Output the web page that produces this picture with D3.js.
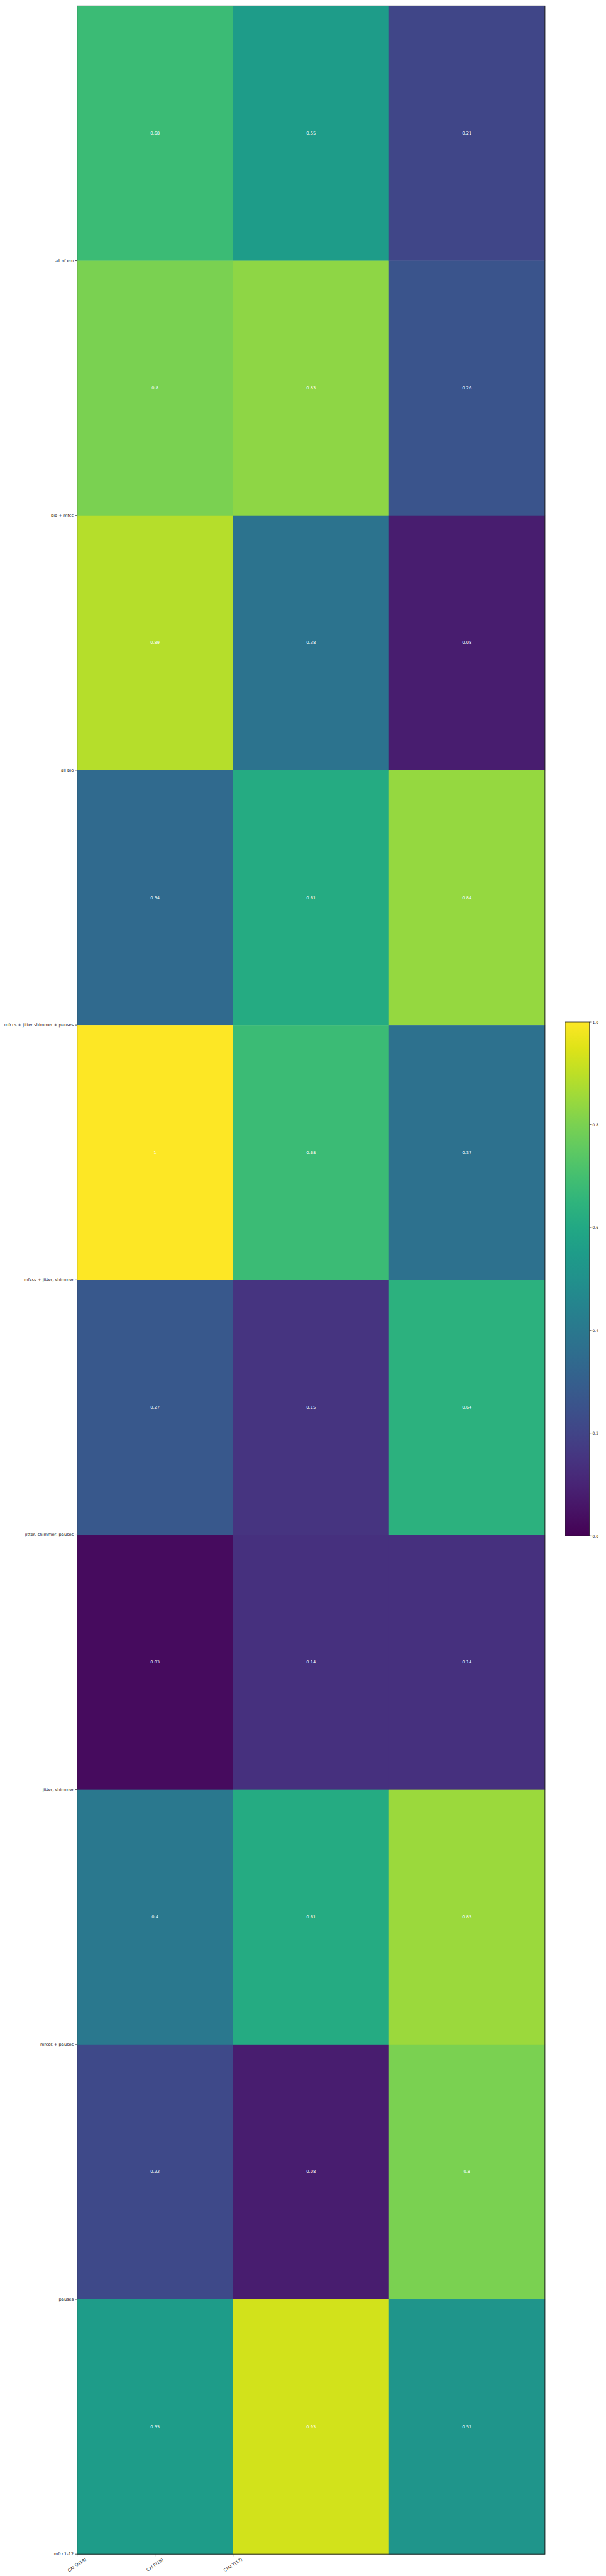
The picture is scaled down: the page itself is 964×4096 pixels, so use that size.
<!DOCTYPE html>
<html><head><meta charset="utf-8">
<script src="https://cdn.jsdelivr.net/npm/d3@7"></script>
<style>body{margin:0;background:#fff}svg{display:block}</style>
</head><body>
<script>
const rowLabels = ["all of em","bio + mfcc","all bio","mfccs + jitter shimmer + pauses","mfccs + jitter, shimmer","jitter, shimmer, pauses","jitter, shimmer","mfccs + pauses","pauses","mfcc1-12"];
const colLabels = ["CAI St(19)","CAI F(18)","STAI T(17)"];
const colTickPos = [0, 0.5, 1];
const col1 = [0.68,0.80,0.89,0.34,1.00,0.27,0.03,0.40,0.22,0.55];
const col2 = [0.55,0.83,0.38,0.61,0.68,0.15,0.14,0.61,0.08,0.93];
const col3 = [0.21,0.26,0.08,0.84,0.37,0.64,0.14,0.85,0.80,0.52];
const cbTicks = [0.0,0.2,0.4,0.6,0.8,1.0];

const W=1440,H=6120;
const svg=d3.select("body").append("svg").attr("width",964).attr("height",4096).attr("viewBox",`0 0 ${W} ${H}`);
const font="DejaVu Sans, sans-serif";
const x=d3.scaleLinear().domain([0,3]).range([183,1295]);
const y=d3.scaleBand().domain(d3.range(10)).range([14,6068]);
const color=d3.scaleSequential(d3.interpolateViridis).domain([0,1]);
const cols=[col1,col2,col3];
const cells=[];
cols.forEach((c,j)=>c.forEach((v,i)=>cells.push({i,j,v})));
const g=svg.append("g");
g.selectAll("rect.cell").data(cells).join("rect").attr("class","cell")
 .attr("x",d=>x(d.j)).attr("width",x(1)-x(0)+0.5)
 .attr("y",d=>y(d.i)).attr("height",y.bandwidth()+0.5)
 .attr("fill",d=>color(d.v));
g.selectAll("text.val").data(cells).join("text").attr("class","val")
 .attr("x",d=>x(d.j+0.5)).attr("y",d=>y(d.i)+y.bandwidth()/2)
 .attr("text-anchor","middle").attr("dominant-baseline","central")
 .attr("fill","#fff").attr("font-family",font).attr("font-size",10)
 .text(d=>String(+d.v.toFixed(2)));
// frame
svg.append("rect").attr("x",x(0)).attr("y",y(0)).attr("width",x(3)-x(0)).attr("height",y.range()[1]-y(0))
 .attr("fill","none").attr("stroke","#222").attr("stroke-width",1.5);
// y ticks at bottom boundaries
const yt=svg.append("g");
rowLabels.forEach((l,i)=>{
  const yy=y(i)+y.bandwidth();
  yt.append("line").attr("x1",x(0)-5).attr("x2",x(0)).attr("y1",yy).attr("y2",yy).attr("stroke","#222").attr("stroke-width",1.2);
  yt.append("text").attr("x",x(0)-8).attr("y",yy).attr("text-anchor","end").attr("dominant-baseline","central")
   .attr("font-family",font).attr("font-size",10).attr("fill","#222").text(l);
});
// x ticks
const xt=svg.append("g");
colLabels.forEach((l,k)=>{
  const xx=x(colTickPos[k]), yy=y.range()[1];
  xt.append("line").attr("x1",xx).attr("x2",xx).attr("y1",yy).attr("y2",yy+5).attr("stroke","#222").attr("stroke-width",1.2);
  xt.append("text").attr("transform",`translate(${xx},${yy+26}) rotate(-35)`).attr("text-anchor","middle").attr("dominant-baseline","central")
   .attr("font-family",font).attr("font-size",10).attr("fill","#222").text(l);
});
// colorbar
const cbx=1343,cbw=58,cbTop=2428,cbBot=3649;
const cy=d3.scaleLinear().domain([0,1]).range([cbBot,cbTop]);
const defs=svg.append("defs");
const grad=defs.append("linearGradient").attr("id","vg").attr("x1",0).attr("x2",0).attr("y1",1).attr("y2",0);
d3.range(0,1.0001,0.05).forEach(t=>grad.append("stop").attr("offset",t).attr("stop-color",color(t)));
svg.append("rect").attr("x",cbx).attr("y",cbTop).attr("width",cbw).attr("height",cbBot-cbTop).attr("fill","url(#vg)").attr("stroke","#222").attr("stroke-width",1.2);
cbTicks.forEach(t=>{
  svg.append("line").attr("x1",cbx+cbw).attr("x2",cbx+cbw+4).attr("y1",cy(t)).attr("y2",cy(t)).attr("stroke","#222");
  svg.append("text").attr("x",cbx+cbw+7).attr("y",cy(t)).attr("dominant-baseline","central")
   .attr("font-family",font).attr("font-size",9).attr("fill","#222").text(t.toFixed(1));
});
</script>
</body></html>
